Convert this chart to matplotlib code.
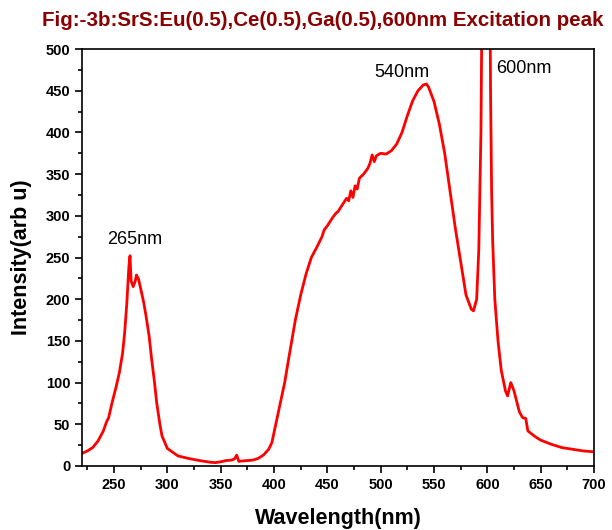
import matplotlib.pyplot as plt
import numpy as np
from matplotlib.ticker import MultipleLocator

plt.rcParams['font.family'] = ['Liberation Sans', 'DejaVu Sans']

# excitation spectrum (nm, arb u)
wavelength = [220, 225, 230, 235, 240, 243, 245, 248, 250, 252, 255, 258, 260, 262,
              264, 265, 266, 268, 270, 271, 273, 276, 278, 280, 283, 285, 288, 290,
              293, 295, 300, 310, 320, 330, 340, 345, 350, 355, 360, 363, 365, 367, 370,
              380, 385, 390, 395, 398, 400, 405, 410, 415, 420, 425, 430, 435, 440,
              445, 447, 450, 455, 458, 460, 465, 468, 470, 472, 474, 476, 478, 480,
              484, 488, 490, 492, 494, 496, 500, 505, 510, 515, 520, 525, 530, 535,
              540, 543, 545, 550, 555, 560, 565, 570, 575, 580, 585, 587, 590, 592,
              594, 595, 597, 599, 601, 603, 604, 605, 607, 610, 613, 617, 619, 621,
              622, 625, 630, 633, 636, 638, 640, 645, 650, 660, 670, 680, 690, 700]
intensity = [15, 18, 22, 30, 42, 53, 58, 75, 85, 95, 112, 135, 160, 195,
             240, 252, 222, 215, 222, 229, 224, 207, 195, 180, 155, 131, 100, 76,
             50, 36, 21, 12, 9, 6.5, 4.5, 4, 5, 6.5, 7, 8.5, 13, 5.5, 6,
             7, 9, 13, 20, 28, 40, 70, 100, 138, 175, 205, 230, 250, 262,
             275, 283, 288, 298, 303, 305, 315, 321, 318, 330, 322, 336, 332, 345,
             350, 357, 363, 373, 365, 372, 375, 374, 378, 386, 400, 420, 438, 450,
             457, 458, 454, 437, 410, 375, 330, 285, 245, 205, 188, 186, 200, 260,
             400, 560, 900, 1300, 900, 450, 330, 270, 200, 150, 115, 90, 84, 95,
             100, 90, 65, 58, 57, 42, 40, 35, 31, 26, 22, 20, 18, 17]

peak_labels = ['265nm', '540nm', '600nm']
peak_x = [269, 520, 608]
peak_y = [272, 472, 477]
peak_ha = ['center', 'center', 'left']

fig = plt.figure(figsize=(6.12, 5.3), dpi=100)
ax = fig.add_axes([0.134, 0.1208, 0.8366, 0.7867])
ax.plot(wavelength, intensity, color='red', lw=2.0)

for lab, x, y, ha in zip(peak_labels, peak_x, peak_y, peak_ha):
    ax.text(x, y, lab, ha=ha, va='center', fontsize=13, color='black')

ax.set_xlim(220, 700)
ax.set_ylim(0, 500)
ax.xaxis.set_major_locator(MultipleLocator(50))
ax.xaxis.set_minor_locator(MultipleLocator(25))
ax.yaxis.set_major_locator(MultipleLocator(50))
ax.yaxis.set_minor_locator(MultipleLocator(25))
ax.tick_params(which='both', direction='out', width=1.2, top=False, right=False)
ax.tick_params(which='major', length=5, labelsize=10.5)
ax.tick_params(which='minor', length=3)
for lab in ax.get_xticklabels() + ax.get_yticklabels():
    lab.set_fontweight('bold')
for sp in ax.spines.values():
    sp.set_linewidth(1.2)

ax.set_xlabel('Wavelength(nm)', fontsize=15.5, fontweight='bold', labelpad=12)
ax.set_ylabel('Intensity(arb u)', fontsize=15.5, fontweight='bold', labelpad=10)
fig.text(0.528, 0.962, 'Fig:-3b:SrS:Eu(0.5),Ce(0.5),Ga(0.5),600nm Excitation peak',
         ha='center', va='center', fontsize=14.8, fontweight='bold', color='#8b0000')

fig.savefig('out.png', dpi=100)
